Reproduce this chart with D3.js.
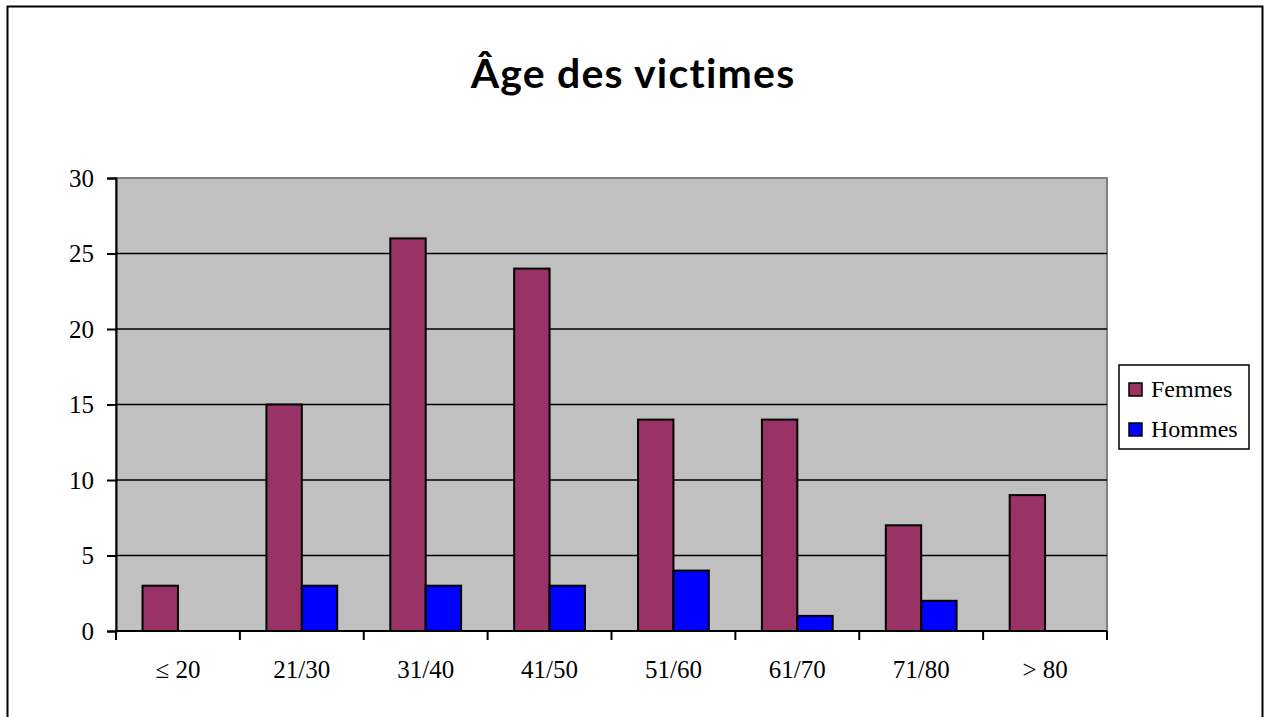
<!DOCTYPE html>
<html>
<head>
<meta charset="utf-8">
<script src="https://cdn.jsdelivr.net/npm/d3@7"></script>
<style>
  body { margin: 0; background: #fff; }
  svg { display: block; }
</style>
</head>
<body>
<div id="chart"></div>
<script>
const categories = ['\u2264 20', '21/30', '31/40', '41/50', '51/60', '61/70', '71/80', '> 80'];
const femmes = [3, 15, 26, 24, 14, 14, 7, 9];
const hommes = [0, 3, 3, 3, 4, 1, 2, 0];
const seriesNames = ['Femmes', 'Hommes'];
const yTicks = [0, 5, 10, 15, 20, 25, 30];

const width = 1265, height = 717;
const plot = { left: 116, top: 178, right: 1107, bottom: 631 };
const colors = { Femmes: '#993366', Hommes: '#0000ff' };

const svg = d3.select('#chart').append('svg')
    .attr('width', width)
    .attr('height', height);

// outer frame
svg.append('rect')
    .attr('x', 7.5).attr('y', 6.5)
    .attr('width', 1255).attr('height', 720)
    .attr('fill', '#fff')
    .attr('stroke', '#000')
    .attr('stroke-width', 2);

svg.append('text')
    .attr('x', 633).attr('y', 88)
    .attr('text-anchor', 'middle')
    .attr('font-family', 'Lato, "Open Sans", sans-serif')
    .attr('font-weight', 'bold')
    .attr('font-size', 41)
    .attr('letter-spacing', 1.2)
    .text('\u00c2ge des victimes');

const x = d3.scaleBand()
    .domain(categories)
    .range([plot.left, plot.right]);

const barW = x.bandwidth() / 3.5;
const xs = d3.scaleBand()
    .domain(seriesNames)
    .range([x.bandwidth() / 2 - barW, x.bandwidth() / 2 + barW]);

const y = d3.scaleLinear()
    .domain([0, 30])
    .range([plot.bottom, plot.top]);

// plot area
svg.append('rect')
    .attr('x', plot.left).attr('y', plot.top)
    .attr('width', plot.right - plot.left)
    .attr('height', plot.bottom - plot.top)
    .attr('fill', '#c0c0c0')
    .attr('stroke', '#808080')
    .attr('stroke-width', 2);

// gridlines
svg.append('g')
    .selectAll('line')
    .data(yTicks.filter(d => d > 0 && d < 30))
    .enter().append('line')
      .attr('x1', plot.left).attr('x2', plot.right)
      .attr('y1', d => y(d)).attr('y2', d => y(d))
      .attr('stroke', '#000')
      .attr('stroke-width', 1.5);

// bars
const rows = categories.map((c, i) => ({ cat: c, Femmes: femmes[i], Hommes: hommes[i] }));

const groups = svg.append('g')
    .selectAll('g')
    .data(rows)
    .enter().append('g')
      .attr('transform', d => 'translate(' + x(d.cat) + ',0)');

groups.selectAll('rect')
    .data(d => seriesNames.map(k => ({ key: k, value: d[k] })).filter(d => d.value > 0))
    .enter().append('rect')
      .attr('x', d => xs(d.key))
      .attr('y', d => y(d.value))
      .attr('width', xs.bandwidth())
      .attr('height', d => y(0) - y(d.value))
      .attr('fill', d => colors[d.key])
      .attr('stroke', '#000')
      .attr('stroke-width', 2);

// axes
const yAxis = d3.axisLeft(y)
    .tickValues(yTicks)
    .tickSize(9)
    .tickPadding(13);

svg.append('g')
    .attr('transform', 'translate(' + plot.left + ',0)')
    .call(yAxis)
    .call(g => g.select('.domain').attr('stroke-width', 2))
    .call(g => g.selectAll('.tick line').attr('stroke-width', 2))
    .call(g => g.selectAll('text')
        .attr('font-family', '"Liberation Serif", "Times New Roman", serif')
        .attr('font-size', 25)
        .attr('fill', '#000'));

const xAxis = d3.axisBottom(x)
    .tickSize(0)
    .tickPadding(29);

svg.append('g')
    .attr('transform', 'translate(0,' + plot.bottom + ')')
    .call(xAxis)
    .call(g => g.select('.domain').attr('stroke-width', 2).attr('d', 'M' + plot.left + ',0H' + plot.right))
    .call(g => g.selectAll('text')
        .attr('font-family', '"Liberation Serif", "Times New Roman", serif')
        .attr('font-size', 25)
        .attr('fill', '#000'));

// x tick marks on category boundaries
svg.append('g')
    .selectAll('line')
    .data(categories.map(c => x(c)).concat([plot.right]))
    .enter().append('line')
      .attr('x1', d => d).attr('x2', d => d)
      .attr('y1', plot.bottom).attr('y2', plot.bottom + 9)
      .attr('stroke', '#000')
      .attr('stroke-width', 2);

// legend
const legend = svg.append('g').attr('transform', 'translate(1119,365)');

legend.append('rect')
    .attr('width', 130).attr('height', 84)
    .attr('fill', '#fff')
    .attr('stroke', '#000')
    .attr('stroke-width', 1.5);

const item = legend.selectAll('.item')
    .data(seriesNames)
    .enter().append('g')
      .attr('class', 'item')
      .attr('transform', (d, i) => 'translate(10,' + (18 + i * 40) + ')');

item.append('rect')
    .attr('width', 13).attr('height', 13)
    .attr('fill', d => colors[d])
    .attr('stroke', '#000')
    .attr('stroke-width', 1.5);

item.append('text')
    .attr('x', 22).attr('y', 14)
    .attr('font-family', '"Liberation Serif", "Times New Roman", serif')
    .attr('font-size', 24)
    .text(d => d);
</script>
</body>
</html>
